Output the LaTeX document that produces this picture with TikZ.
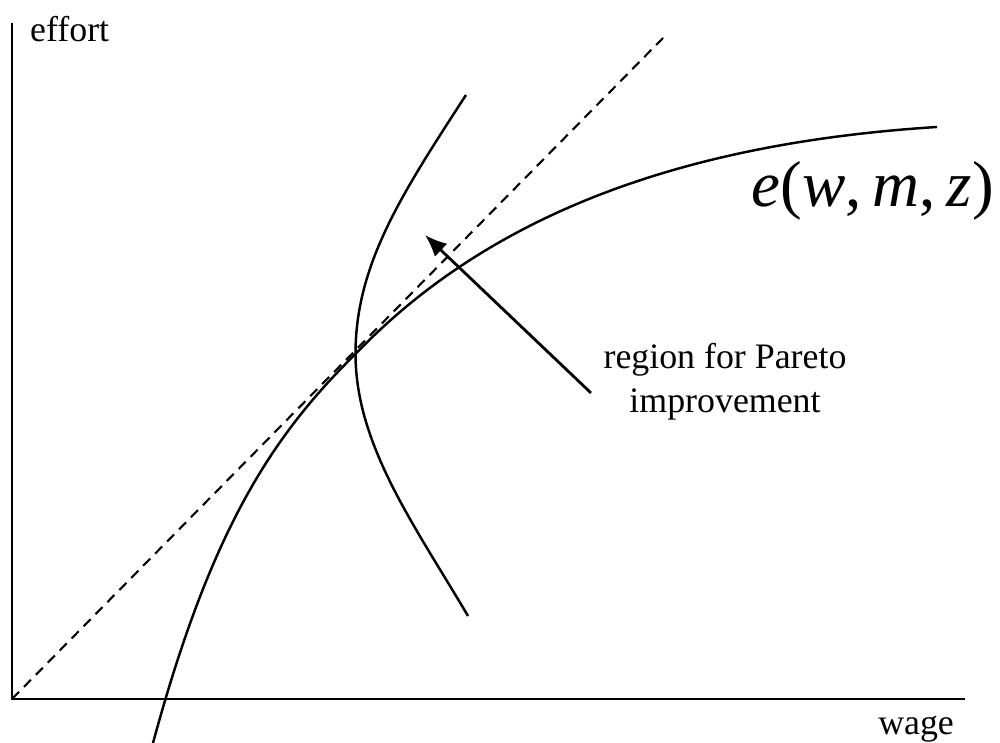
\documentclass[tikz,border=0pt]{standalone}
\usepackage{fontspec}
\setmainfont{Liberation Serif}
\usepackage{tikz}
\usetikzlibrary{arrows.meta}

\begin{document}
\begin{tikzpicture}[font=\fontsize{10.2}{12.5}\selectfont, line width=0.7pt]
\useasboundingbox (0,0) rectangle (10,7.43);

% axes
\coordinate (origin) at (0.12,0.44);
\coordinate (ytop) at (0.12,7.20);
\coordinate (xend) at (9.65,0.44);
\draw (ytop) -- (origin) -- (xend);
\node[anchor=base west, inner sep=0pt] (effort) at (0.29,7.01) {effort};
\node[anchor=base west, inner sep=0pt] (wage) at (8.77,0.08) {wage};

% ray from the origin
\coordinate (raytop) at (6.63,7.05);
\draw[dashed, dash pattern=on 1mm off 0.7mm, line width=0.6pt] (origin) -- (raytop);

% effort function, touching the ray at (tangent)
\coordinate (tangent) at (3.555,3.89);
\draw (1.53,0) .. controls (2.10,2.10) and (2.70,3.05) .. (tangent)
  .. controls (5.05,5.45) and (7.17,6.02) .. (9.37,6.16);
\node[anchor=base east, inner sep=0pt, font=\fontsize{18.5}{22}\selectfont] (efun) at (9.95,5.36)
  {\textit{e}(\textit{w},\,\textit{m},\,\textit{z})};

% iso-curve
\draw (4.66,6.48) .. controls (4.01,5.48) and (3.555,4.78) .. (tangent)
  .. controls (3.555,2.98) and (4.15,2.17) .. (4.68,1.27);

% label and arrow
\node[align=center, inner sep=0pt] (region) at (7.25,3.61) {region for Pareto\\improvement};
\coordinate (tail) at (5.91,3.50);
\coordinate (tip) at (4.25,5.08);
\draw[-{Latex[length=2.2mm,width=1.8mm]}, line width=0.8pt] (tail) -- (tip);

\end{tikzpicture}
\end{document}
